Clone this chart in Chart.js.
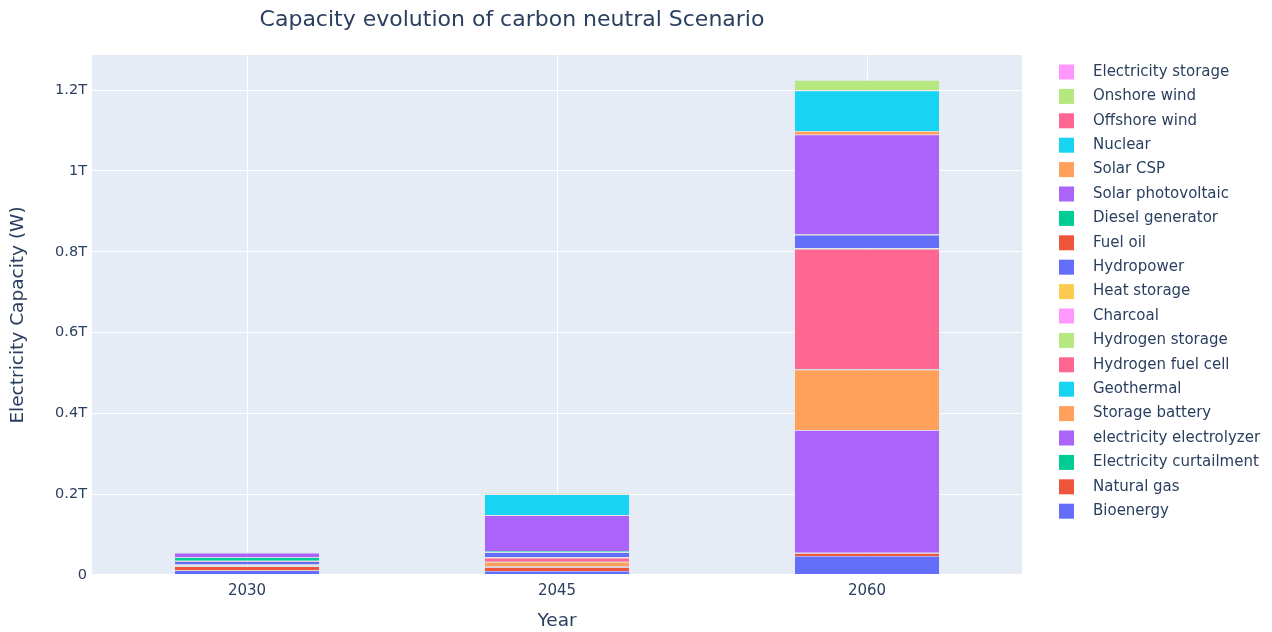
<!DOCTYPE html>
<html>
<head>
<meta charset="utf-8">
<script src="https://cdn.jsdelivr.net/npm/chart.js@4.4.0/dist/chart.umd.min.js"></script>
<style>
  html, body { margin: 0; padding: 0; background: #fff; }
  #wrap { width: 1272px; height: 632px; }
</style>
</head>
<body>
<div id="wrap"><canvas id="myChart"></canvas></div>
<script>
const chartTitle = 'Capacity evolution of carbon neutral Scenario';
const years = ['2030', '2045', '2060'];

// stack order: first one sits at the bottom
const techs = [
  'Bioenergy', 'Natural gas', 'Electricity curtailment', 'electricity electrolyzer',
  'Storage battery', 'Geothermal', 'Hydrogen fuel cell', 'Hydrogen storage',
  'Charcoal', 'Heat storage', 'Hydropower', 'Fuel oil', 'Diesel generator',
  'Solar photovoltaic', 'Solar CSP', 'Nuclear', 'Offshore wind', 'Onshore wind',
  'Electricity storage'
];
const colors = [
  '#636efa', '#ef553b', '#00cc96', '#ab63fa', '#ffa15a', '#19d3f3', '#ff6692',
  '#b6e880', '#ff97ff', '#fecb52', '#636efa', '#ef553b', '#00cc96', '#ab63fa',
  '#ffa15a', '#19d3f3', '#ff6692', '#b6e880', '#ff97ff'
];

// capacity in TW, same order as techs
const cap2030 = [0.011, 0.010, 0.001, 0.001, 0.001, 0.0005, 0.001, 0.0005, 0, 0,
                 0.0075, 0.002, 0.008, 0.011, 0.0005, 0, 0.0005, 0.001, 0.0005];
const cap2045 = [0.010, 0.009, 0.001, 0.001, 0.011, 0.001, 0.009, 0.001, 0.0005, 0.001,
                 0.011, 0.001, 0.003, 0.088, 0.001, 0.051, 0.001, 0.002, 0.0005];
const cap2060 = [0.047, 0.007, 0.001, 0.303, 0.150, 0.001, 0.298, 0.001, 0.0005, 0.001,
                 0.032, 0.001, 0.001, 0.246, 0.009, 0.100, 0.001, 0.025, 0.001];

const yTicks = [0, 0.2, 0.4, 0.6, 0.8, 1, 1.2];
const fontColor = '#2a3f5f';
const fontName = '"DejaVu Sans", Verdana, sans-serif';
Chart.defaults.font.family = fontName;
Chart.defaults.color = fontColor;

const datasets = techs.map((name, i) => ({
  label: name,
  data: [cap2030[i], cap2045[i], cap2060[i]],
  backgroundColor: colors[i],
  borderColor: '#e5ecf6',
  borderWidth: 0.5,
  barPercentage: 0.468,
  categoryPercentage: 1
}));

// plot background, title and the legend on the right
const decor = {
  id: 'decor',
  beforeDraw(chart) {
    const {ctx, chartArea: a} = chart;
    ctx.save();
    ctx.fillStyle = '#e5ecf6';
    ctx.fillRect(a.left, a.top, a.right - a.left, a.bottom - a.top);
    ctx.restore();
  },
  afterDraw(chart) {
    const {ctx, chartArea: a} = chart;
    ctx.save();
    ctx.fillStyle = fontColor;
    ctx.font = '22px ' + fontName;
    ctx.textAlign = 'center';
    ctx.textBaseline = 'middle';
    ctx.fillText(chartTitle, 512, 20);

    ctx.font = '15px ' + fontName;
    ctx.textAlign = 'left';
    const sets = chart.data.datasets;
    const x0 = a.right + 37;
    for (let i = 0; i < sets.length; i++) {
      const ds = sets[sets.length - 1 - i];
      const y = 72 + i * 24.4;
      ctx.fillStyle = ds.backgroundColor;
      ctx.fillRect(x0, y - 7.5, 15, 15);
      ctx.fillStyle = fontColor;
      ctx.fillText(ds.label, x0 + 34, y);
    }
    ctx.restore();
  }
};

const ctx = document.getElementById('myChart').getContext('2d');
const myChart = new Chart(ctx, {
  type: 'bar',
  data: { labels: years, datasets },
  options: {
    responsive: true,
    maintainAspectRatio: false,
    animation: false,
    layout: { padding: { top: 55, left: 0, right: 0, bottom: 0 } },
    plugins: {
      legend: { display: false },
      tooltip: { enabled: false }
    },
    scales: {
      x: {
        stacked: true,
        grid: { color: '#ffffff', offset: false, drawTicks: false },
        border: { display: false },
        ticks: { padding: 7, font: { size: 15 } },
        title: { display: true, text: 'Year', font: { size: 18.5 }, padding: { top: 4, bottom: 0 } },
        afterFit: s => { s.height = 57; }
      },
      y: {
        stacked: true,
        min: 0,
        max: 1.287,
        grid: {
          color: '#ffffff',
          drawTicks: false,
          lineWidth: c => (c.tick && c.tick.value === 0 ? 2 : 1)
        },
        border: { display: false },
        afterBuildTicks: s => { s.ticks = yTicks.map(v => ({ value: v })); },
        ticks: {
          padding: 5,
          font: { size: 14.5 },
          callback: v => (v === 0 ? '0' : (+v.toFixed(1)) + 'T')
        },
        title: {
          display: true,
          text: 'Electricity Capacity (W)',
          font: { size: 18.5 },
          padding: { top: 7, bottom: 0 }
        },
        afterFit: s => { s.width = 92; }
      },
      side: {
        position: 'right',
        grid: { display: false },
        border: { display: false },
        ticks: { display: false },
        afterFit: s => { s.width = 250; }
      }
    }
  },
  plugins: [decor]
});
</script>
</body>
</html>
